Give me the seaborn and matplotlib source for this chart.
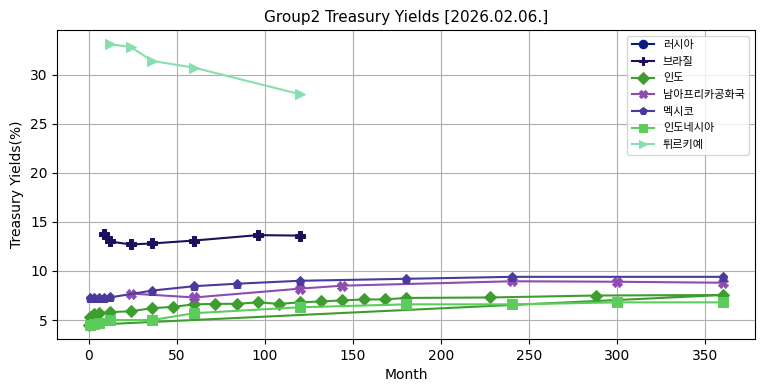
import numpy as np
import pandas as pd
import matplotlib
matplotlib.use("Agg")
import matplotlib.pyplot as plt
import seaborn as sns

# Yields by maturity (months)
russia_m = []
russia_y = []

brazil_m = [9, 12, 24, 36, 60, 96, 120]
brazil_y = [13.8, 13.0, 12.7, 12.8, 13.1, 13.65, 13.6]

india_m = [1, 3, 6, 12, 24, 36, 48, 60, 72, 84, 96, 108, 120, 132, 144, 156,
           168, 180, 228, 288, 360, 0.25]
india_y = [5.3, 5.6, 5.7, 5.8, 5.9, 6.2, 6.35, 6.6, 6.65, 6.65, 6.8, 6.65, 6.8,
           6.9, 7.0, 7.1, 7.1, 7.25, 7.3, 7.5, 7.55, 4.5]

safrica_m = [24, 60, 120, 144, 240, 300, 360]
safrica_y = [7.7, 7.3, 8.2, 8.5, 8.95, 8.9, 8.8]

mexico_m = [1, 3, 6, 9, 12, 36, 60, 84, 120, 180, 240, 360]
mexico_y = [7.2, 7.2, 7.25, 7.25, 7.3, 8.0, 8.45, 8.7, 9.0, 9.2, 9.4, 9.4]

indonesia_m = [1, 3, 6, 12, 36, 60, 120, 180, 240, 300, 360]
indonesia_y = [4.5, 4.6, 4.7, 5.0, 5.0, 5.7, 6.3, 6.6, 6.6, 6.8, 6.8]

turkey_m = [12, 24, 36, 60, 120]
turkey_y = [33.1, 32.8, 31.4, 30.7, 28.0]

series = [
    ("러시아", russia_m, russia_y, "#0b1a80", "o", 6.5),
    ("브라질", brazil_m, brazil_y, "#1e0f5c", "P", 6.5),
    ("인도", india_m, india_y, "#3d9e2f", "D", 6.5),
    ("남아프리카공화국", safrica_m, safrica_y, "#8e4cb0", "X", 6.5),
    ("멕시코", mexico_m, mexico_y, "#4a3a9e", "p", 6.5),
    ("인도네시아", indonesia_m, indonesia_y, "#5ccd5c", "s", 6.5),
    ("튀르키예", turkey_m, turkey_y, "#86e0ae", ">", 6.5),
]

plt.rcParams['font.family'] = ['DejaVu Sans', 'Noto Sans CJK KR']
plt.rcParams['axes.unicode_minus'] = False

fig, ax = plt.subplots(figsize=(7.64, 3.91), dpi=100)

for name, m, y, color, marker, ms in series:
    if len(m) == 0:
        # no data for this country, keep legend entry only
        ax.plot([], [], color=color, marker=marker, markersize=ms, label=name)
        continue
    sns.lineplot(x=m, y=y, ax=ax, color=color, marker=marker, markersize=ms,
                 markeredgecolor=color, sort=False, estimator=None, label=name)

ax.set_title("Group2 Treasury Yields [2026.02.06.]", fontsize=11)
ax.set_xlabel("Month")
ax.set_ylabel("Treasury Yields(%)")
ax.grid(True)
leg = ax.legend(loc="upper right", fontsize=8, labelspacing=0.6,
                handlelength=2.0, markerscale=0.9)

fig.subplots_adjust(left=0.075, right=0.988, top=0.923, bottom=0.133)
plt.savefig("out.png", dpi=100)
